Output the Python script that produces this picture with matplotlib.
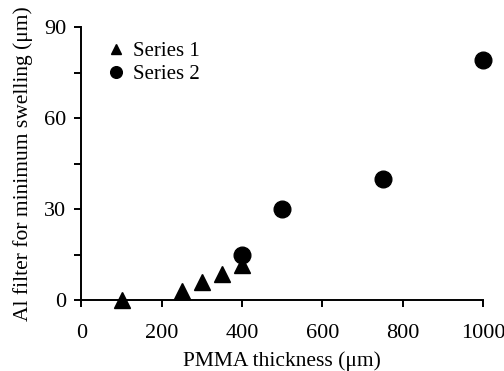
import matplotlib
matplotlib.use("Agg")
import matplotlib.pyplot as plt
from matplotlib.ticker import MultipleLocator

plt.rcParams['font.family'] = ['Liberation Serif', 'DejaVu Serif']

# data
s1_x = [100, 250, 300, 350, 400]
s1_y = [0, 3, 6, 8.7, 11.5]
s2_x = [400, 500, 750, 1000]
s2_y = [14.8, 30, 40, 79]
x_ticks = [0, 200, 400, 600, 800, 1000]
y_ticks = [0, 30, 60, 90]

fig = plt.figure(figsize=(5.04, 3.71), dpi=100)
ax = fig.add_axes([0.1617, 0.1914, 0.7966, 0.7356])

ax.plot(s1_x, s1_y, linestyle='none', marker='^', markersize=11,
        color='black', label='Series 1', clip_on=False, zorder=3)
ax.plot(s2_x, s2_y, linestyle='none', marker='o', markersize=12,
        color='black', label='Series 2', clip_on=False, zorder=3)

ax.set_xlim(0, 1000)
ax.set_ylim(0, 90)
ax.set_xticks(x_ticks)
ax.set_yticks(y_ticks)
ax.yaxis.set_minor_locator(MultipleLocator(15))

for side in ['top', 'right']:
    ax.spines[side].set_visible(False)
for side in ['left', 'bottom']:
    ax.spines[side].set_linewidth(1.4)

ax.tick_params(axis='both', which='both', direction='out', width=1.4,
               length=5, labelsize=16, colors='black')
ax.tick_params(axis='y', pad=6)
ax.tick_params(axis='x', pad=12)

ax.set_xlabel('PMMA thickness (μm)', fontsize=15.5, labelpad=6)
ax.set_ylabel('Al filter for minimum swelling (μm)', fontsize=15.5, labelpad=8)

ax.legend(loc='upper left', frameon=False, fontsize=15, markerscale=0.7,
          handlelength=0.8, handletextpad=0.4, borderaxespad=0.3,
          labelspacing=0.15, bbox_to_anchor=(0.03, 1.0))

fig.savefig('out.png', dpi=100)
